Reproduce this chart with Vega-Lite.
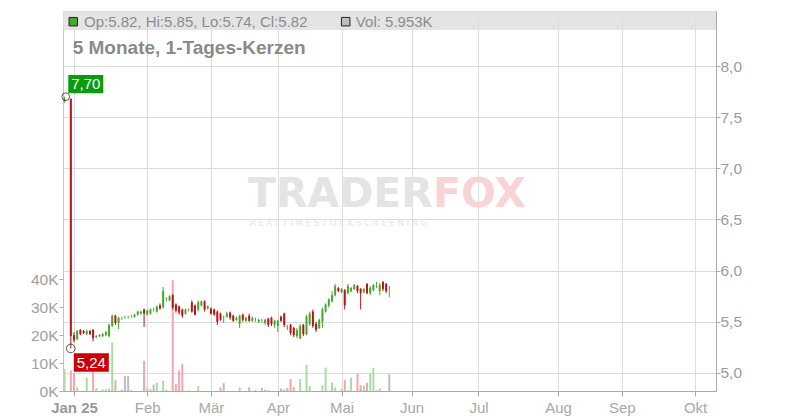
{
  "$schema": "https://vega.github.io/schema/vega-lite/v6.json",
  "width": 653,
  "height": 380,
  "autosize": "none",
  "padding": {"left": 63, "top": 11, "right": 84, "bottom": 29},
  "background": "white",
  "config": {
    "view": {"stroke": "#c4c4c4", "strokeWidth": 1},
    "font": "Liberation Sans",
    "axis": {"title": null, "labelFont": "Liberation Sans", "gridColor": "#dcdcdc", "domainColor": "#aaaaaa", "tickColor": "#aaaaaa"}
  },
  "data": {"values": [
    {"t": -3, "o": 7.66, "h": 7.70, "l": 7.64, "c": 7.68, "v": 7900},
    {"t": -1, "o": 7.68, "h": 7.68, "l": 5.24, "c": 5.36, "v": 7300},
    {"t": 0, "o": 5.37, "h": 5.40, "l": 5.30, "c": 5.32, "v": 6400},
    {"t": 1, "o": 5.33, "h": 5.42, "l": 5.32, "c": 5.41, "v": 1300},
    {"t": 2, "o": 5.42, "h": 5.43, "l": 5.37, "c": 5.38},
    {"t": 3, "o": 5.41, "h": 5.42, "l": 5.38, "c": 5.39},
    {"t": 4, "o": 5.38, "h": 5.42, "l": 5.37, "c": 5.41, "v": 4800},
    {"t": 5, "o": 5.41, "h": 5.42, "l": 5.37, "c": 5.38},
    {"t": 6, "o": 5.42, "h": 5.43, "l": 5.31, "c": 5.34, "v": 8400},
    {"t": 7, "o": 5.35, "h": 5.37, "l": 5.34, "c": 5.36, "v": 1000},
    {"t": 8, "o": 5.36, "h": 5.38, "l": 5.35, "c": 5.37},
    {"t": 9, "o": 5.36, "h": 5.39, "l": 5.35, "c": 5.38, "v": 600},
    {"t": 10, "o": 5.37, "h": 5.41, "l": 5.36, "c": 5.40, "v": 600},
    {"t": 11, "o": 5.36, "h": 5.48, "l": 5.35, "c": 5.47, "v": 900},
    {"t": 12, "o": 5.46, "h": 5.57, "l": 5.45, "c": 5.56, "v": 17400},
    {"t": 13, "o": 5.56, "h": 5.57, "l": 5.47, "c": 5.49, "v": 4000},
    {"t": 14, "o": 5.49, "h": 5.55, "l": 5.43, "c": 5.54},
    {"t": 15, "o": 5.54, "h": 5.55, "l": 5.52, "c": 5.54, "v": 500},
    {"t": 16, "o": 5.54, "h": 5.56, "l": 5.53, "c": 5.54, "v": 5400},
    {"t": 17, "o": 5.55, "h": 5.56, "l": 5.53, "c": 5.55, "v": 5400},
    {"t": 18, "o": 5.55, "h": 5.57, "l": 5.54, "c": 5.55, "v": 300},
    {"t": 19, "o": 5.55, "h": 5.58, "l": 5.54, "c": 5.57},
    {"t": 20, "o": 5.57, "h": 5.61, "l": 5.56, "c": 5.60},
    {"t": 21, "o": 5.58, "h": 5.61, "l": 5.57, "c": 5.60},
    {"t": 22, "o": 5.62, "h": 5.63, "l": 5.45, "c": 5.58, "v": 10800},
    {"t": 23, "o": 5.57, "h": 5.62, "l": 5.56, "c": 5.61, "v": 1300},
    {"t": 24, "o": 5.58, "h": 5.63, "l": 5.57, "c": 5.62, "v": 700},
    {"t": 25, "o": 5.62, "h": 5.64, "l": 5.60, "c": 5.62, "v": 2300},
    {"t": 26, "o": 5.60, "h": 5.66, "l": 5.59, "c": 5.65, "v": 3000},
    {"t": 27, "o": 5.66, "h": 5.68, "l": 5.62, "c": 5.63},
    {"t": 28, "o": 5.64, "h": 5.84, "l": 5.63, "c": 5.80, "v": 3700},
    {"t": 29, "o": 5.72, "h": 5.74, "l": 5.70, "c": 5.72, "v": 400},
    {"t": 30, "o": 5.71, "h": 5.76, "l": 5.70, "c": 5.75},
    {"t": 31, "o": 5.76, "h": 5.77, "l": 5.62, "c": 5.64, "v": 39700},
    {"t": 32, "o": 5.67, "h": 5.68, "l": 5.59, "c": 5.61, "v": 2500},
    {"t": 33, "o": 5.65, "h": 5.66, "l": 5.57, "c": 5.59, "v": 7300},
    {"t": 34, "o": 5.62, "h": 5.63, "l": 5.54, "c": 5.56, "v": 9600},
    {"t": 35, "o": 5.58, "h": 5.63, "l": 5.57, "c": 5.62},
    {"t": 36, "o": 5.61, "h": 5.63, "l": 5.60, "c": 5.61, "v": 200},
    {"t": 37, "o": 5.69, "h": 5.71, "l": 5.59, "c": 5.60},
    {"t": 38, "o": 5.66, "h": 5.67, "l": 5.56, "c": 5.57},
    {"t": 39, "o": 5.62, "h": 5.71, "l": 5.60, "c": 5.69, "v": 1800},
    {"t": 40, "o": 5.66, "h": 5.71, "l": 5.65, "c": 5.70},
    {"t": 41, "o": 5.70, "h": 5.71, "l": 5.60, "c": 5.62},
    {"t": 42, "o": 5.63, "h": 5.66, "l": 5.62, "c": 5.65},
    {"t": 43, "o": 5.63, "h": 5.64, "l": 5.57, "c": 5.58},
    {"t": 44, "o": 5.62, "h": 5.63, "l": 5.56, "c": 5.57},
    {"t": 45, "o": 5.60, "h": 5.61, "l": 5.47, "c": 5.50},
    {"t": 46, "o": 5.58, "h": 5.59, "l": 5.51, "c": 5.52, "v": 1300},
    {"t": 47, "o": 5.52, "h": 5.56, "l": 5.49, "c": 5.52, "v": 2800},
    {"t": 48, "o": 5.55, "h": 5.60, "l": 5.54, "c": 5.58},
    {"t": 49, "o": 5.59, "h": 5.60, "l": 5.52, "c": 5.54},
    {"t": 50, "o": 5.56, "h": 5.57, "l": 5.50, "c": 5.51},
    {"t": 51, "o": 5.52, "h": 5.55, "l": 5.51, "c": 5.54},
    {"t": 52, "o": 5.48, "h": 5.57, "l": 5.44, "c": 5.56, "v": 1300},
    {"t": 53, "o": 5.57, "h": 5.58, "l": 5.50, "c": 5.52},
    {"t": 54, "o": 5.51, "h": 5.55, "l": 5.50, "c": 5.54},
    {"t": 55, "o": 5.56, "h": 5.58, "l": 5.50, "c": 5.51, "v": 1300},
    {"t": 56, "o": 5.51, "h": 5.55, "l": 5.50, "c": 5.54},
    {"t": 57, "o": 5.53, "h": 5.54, "l": 5.50, "c": 5.53, "v": 300},
    {"t": 58, "o": 5.50, "h": 5.53, "l": 5.49, "c": 5.52},
    {"t": 59, "o": 5.51, "h": 5.53, "l": 5.49, "c": 5.51, "v": 1100},
    {"t": 60, "o": 5.49, "h": 5.53, "l": 5.47, "c": 5.52, "v": 600},
    {"t": 61, "o": 5.53, "h": 5.54, "l": 5.45, "c": 5.47, "v": 300},
    {"t": 62, "o": 5.54, "h": 5.55, "l": 5.46, "c": 5.48},
    {"t": 63, "o": 5.47, "h": 5.52, "l": 5.44, "c": 5.51},
    {"t": 64, "o": 5.46, "h": 5.52, "l": 5.40, "c": 5.51},
    {"t": 65, "o": 5.55, "h": 5.56, "l": 5.50, "c": 5.51, "v": 900},
    {"t": 66, "o": 5.58, "h": 5.59, "l": 5.45, "c": 5.47, "v": 500},
    {"t": 67, "o": 5.45, "h": 5.47, "l": 5.42, "c": 5.45, "v": 1100},
    {"t": 68, "o": 5.47, "h": 5.48, "l": 5.37, "c": 5.39, "v": 4300},
    {"t": 69, "o": 5.44, "h": 5.45, "l": 5.35, "c": 5.37, "v": 1400},
    {"t": 70, "o": 5.36, "h": 5.44, "l": 5.34, "c": 5.42},
    {"t": 71, "o": 5.34, "h": 5.48, "l": 5.33, "c": 5.46, "v": 4300},
    {"t": 72, "o": 5.47, "h": 5.48, "l": 5.36, "c": 5.38},
    {"t": 73, "o": 5.38, "h": 5.57, "l": 5.37, "c": 5.55, "v": 9400},
    {"t": 74, "o": 5.48, "h": 5.60, "l": 5.46, "c": 5.58, "v": 1800},
    {"t": 75, "o": 5.60, "h": 5.62, "l": 5.44, "c": 5.46},
    {"t": 76, "o": 5.48, "h": 5.50, "l": 5.40, "c": 5.42},
    {"t": 77, "o": 5.44, "h": 5.53, "l": 5.43, "c": 5.52},
    {"t": 78, "o": 5.50, "h": 5.64, "l": 5.44, "c": 5.62, "v": 2100},
    {"t": 79, "o": 5.60, "h": 5.68, "l": 5.59, "c": 5.67, "v": 8400},
    {"t": 80, "o": 5.66, "h": 5.73, "l": 5.64, "c": 5.72},
    {"t": 81, "o": 5.70, "h": 5.80, "l": 5.69, "c": 5.76, "v": 3000},
    {"t": 82, "o": 5.76, "h": 5.87, "l": 5.75, "c": 5.85, "v": 1300},
    {"t": 83, "o": 5.83, "h": 5.84, "l": 5.79, "c": 5.80},
    {"t": 84, "o": 5.79, "h": 5.83, "l": 5.78, "c": 5.82, "v": 900},
    {"t": 85, "o": 5.81, "h": 5.82, "l": 5.62, "c": 5.66, "v": 4000},
    {"t": 86, "o": 5.78, "h": 5.87, "l": 5.77, "c": 5.85, "v": 300},
    {"t": 87, "o": 5.80, "h": 5.84, "l": 5.79, "c": 5.83, "v": 4800},
    {"t": 88, "o": 5.82, "h": 5.87, "l": 5.81, "c": 5.86},
    {"t": 89, "o": 5.85, "h": 5.86, "l": 5.78, "c": 5.80, "v": 6100},
    {"t": 90, "o": 5.82, "h": 5.83, "l": 5.62, "c": 5.78, "v": 2100},
    {"t": 91, "o": 5.79, "h": 5.83, "l": 5.78, "c": 5.82, "v": 1900},
    {"t": 92, "o": 5.87, "h": 5.88, "l": 5.77, "c": 5.78, "v": 2900},
    {"t": 93, "o": 5.78, "h": 5.85, "l": 5.76, "c": 5.83, "v": 6400},
    {"t": 94, "o": 5.81, "h": 5.87, "l": 5.80, "c": 5.86, "v": 8300},
    {"t": 95, "o": 5.85, "h": 5.89, "l": 5.83, "c": 5.85, "v": 300},
    {"t": 96, "o": 5.80, "h": 5.88, "l": 5.76, "c": 5.86, "v": 900},
    {"t": 97, "o": 5.89, "h": 5.90, "l": 5.80, "c": 5.82},
    {"t": 98, "o": 5.87, "h": 5.88, "l": 5.78, "c": 5.80},
    {"t": 99, "o": 5.82, "h": 5.85, "l": 5.74, "c": 5.82, "v": 5953}
  ]},
  "layer": [
    {
      "mark": {"type": "bar", "width": 2},
      "encoding": {
        "x": {
          "field": "t", "type": "quantitative",
          "scale": {"domain": [-3.454, 201.57], "nice": false, "zero": false, "padding": 0},
          "axis": {
            "values": [0, 23, 43, 64, 84, 106, 127, 152, 172, 195],
            "labelExpr": "['Jan 25','Feb','Mär','Apr','Mai','Jun','Jul','Aug','Sep','Okt'][indexof([0,23,43,64,84,106,127,152,172,195], datum.value)]",
            "grid": true,
            "tickSize": 5,
            "labelPadding": 4,
            "labelFontSize": 15,
            "labelOverlap": false,
            "labelColor": {"condition": {"test": "datum.value == 0", "value": "#999999"}, "value": "#a8a8a8"},
            "labelFontWeight": {"condition": {"test": "datum.value == 0", "value": "bold"}, "value": "normal"}
          }
        },
        "y": {
          "field": "v", "type": "quantitative",
          "scale": {"domain": [0, 136000], "nice": false},
          "axis": {
            "orient": "left",
            "values": [0, 10000, 20000, 30000, 40000],
            "labelExpr": "(datum.value / 1000) + 'K'",
            "grid": false,
            "domain": false,
            "tickSize": 4,
            "labelPadding": 1,
            "labelFontSize": 15.5,
            "labelColor": "#a0a0a0"
          }
        },
        "color": {
          "condition": [
            {"test": "datum.c > datum.o", "value": "#a9dca1"},
            {"test": "datum.c < datum.o", "value": "#f2a6ae"}
          ],
          "value": "#bdbdbd"
        }
      }
    },
    {
      "layer": [
        {
          "data": {"values": [{}]},
          "mark": {"type": "rect", "fill": "#dfdfdf", "opacity": 0.85},
          "encoding": {
            "x": {"datum": -3.454, "type": "quantitative"},
            "x2": {"datum": 201.57},
            "y": {"datum": 8.5375, "type": "quantitative"},
            "y2": {"datum": 8.352}
          }
        },
        {
          "data": {"values": [{}]},
          "mark": {"type": "text", "text": "TRADER", "font": "DejaVu Sans", "fontWeight": "bold", "fontSize": 41, "align": "right", "baseline": "alphabetic", "fill": "#e4e4e4"},
          "encoding": {
            "x": {"datum": 112.7, "type": "quantitative"},
            "y": {"datum": 6.622, "type": "quantitative"}
          }
        },
        {
          "data": {"values": [{}]},
          "mark": {"type": "text", "text": "FOX", "font": "DejaVu Sans", "fontWeight": "bold", "fontSize": 41, "align": "left", "baseline": "alphabetic", "fill": "#f9d4d4"},
          "encoding": {
            "x": {"datum": 112.7, "type": "quantitative"},
            "y": {"datum": 6.622, "type": "quantitative"}
          }
        },
        {
          "data": {"values": [{}]},
          "mark": {"type": "text", "text": "R E A L T I M E   S T O C K   S C R E E N I N G", "font": "DejaVu Sans", "fontSize": 8.5, "align": "center", "baseline": "alphabetic", "fill": "#e4e4e4"},
          "encoding": {
            "x": {"datum": 83.1, "type": "quantitative"},
            "y": {"datum": 6.4365, "type": "quantitative"}
          }
        },
        {
          "mark": {"type": "rule", "strokeWidth": 1},
          "encoding": {
            "x": {"field": "t", "type": "quantitative"},
            "y": {
              "field": "l", "type": "quantitative",
              "scale": {"domain": [4.824, 8.5375], "nice": false, "zero": false},
              "axis": {
                "orient": "right",
                "values": [5, 5.5, 6, 6.5, 7, 7.5, 8],
                "labelExpr": "replace(format(datum.value, '.1f'), '.', ',')",
                "grid": true,
                "tickSize": 4,
                "labelPadding": 0,
                "labelFontSize": 15.5,
                "labelColor": "#9c9c9c"
              }
            },
            "y2": {"field": "h"},
            "color": {"condition": {"test": "datum.c >= datum.o", "value": "#45a82b"}, "value": "#bb1518"}
          }
        },
        {
          "mark": {"type": "bar", "width": 2},
          "encoding": {
            "x": {"field": "t", "type": "quantitative"},
            "y": {"field": "o", "type": "quantitative"},
            "y2": {"field": "c"},
            "color": {"condition": {"test": "datum.c >= datum.o", "value": "#45a82b"}, "value": "#bb1518"}
          }
        },
        {
          "data": {"values": [{}]},
          "mark": {"type": "point", "shape": "circle", "filled": false, "stroke": "#111111", "strokeWidth": 1, "size": 60},
          "encoding": {
            "x": {"datum": -2.6, "type": "quantitative"},
            "y": {"datum": 7.70, "type": "quantitative"}
          }
        },
        {
          "data": {"values": [{}]},
          "mark": {"type": "point", "shape": "circle", "filled": false, "stroke": "#111111", "strokeWidth": 1, "size": 75},
          "encoding": {
            "x": {"datum": -1, "type": "quantitative"},
            "y": {"datum": 5.24, "type": "quantitative"}
          }
        },
        {
          "data": {"values": [{}]},
          "mark": {"type": "bar", "width": 35, "fill": "#0b9b0b"},
          "encoding": {
            "x": {"datum": 3.7, "type": "quantitative"},
            "y": {"datum": 7.912, "type": "quantitative"},
            "y2": {"datum": 7.733}
          }
        },
        {
          "data": {"values": [{}]},
          "mark": {"type": "text", "text": "7,70", "fontSize": 15, "align": "center", "baseline": "alphabetic", "fill": "white"},
          "encoding": {
            "x": {"datum": 3.7, "type": "quantitative"},
            "y": {"datum": 7.775, "type": "quantitative"}
          }
        },
        {
          "data": {"values": [{}]},
          "mark": {"type": "bar", "width": 35, "fill": "#cc0000"},
          "encoding": {
            "x": {"datum": 5.43, "type": "quantitative"},
            "y": {"datum": 5.192, "type": "quantitative"},
            "y2": {"datum": 5.0127}
          }
        },
        {
          "data": {"values": [{}]},
          "mark": {"type": "text", "text": "5,24", "fontSize": 15, "align": "center", "baseline": "alphabetic", "fill": "white"},
          "encoding": {
            "x": {"datum": 5.43, "type": "quantitative"},
            "y": {"datum": 5.046, "type": "quantitative"}
          }
        },
        {
          "data": {"values": [{}]},
          "mark": {"type": "point", "shape": "square", "filled": true, "fill": "#47a82e", "stroke": "#222222", "strokeWidth": 1, "size": 72, "opacity": 1},
          "encoding": {
            "x": {"datum": -0.22, "type": "quantitative"},
            "y": {"datum": 8.433, "type": "quantitative"}
          }
        },
        {
          "data": {"values": [{}]},
          "mark": {"type": "text", "text": "Op:5.82, Hi:5.85, Lo:5.74, Cl:5.82", "fontSize": 15, "align": "left", "baseline": "alphabetic", "fill": "#8c8c8c"},
          "encoding": {
            "x": {"datum": 3.14, "type": "quantitative"},
            "y": {"datum": 8.384, "type": "quantitative"}
          }
        },
        {
          "data": {"values": [{}]},
          "mark": {"type": "point", "shape": "square", "filled": true, "fill": "#bdbdbd", "stroke": "#222222", "strokeWidth": 1, "size": 72, "opacity": 1},
          "encoding": {
            "x": {"datum": 85.3, "type": "quantitative"},
            "y": {"datum": 8.433, "type": "quantitative"}
          }
        },
        {
          "data": {"values": [{}]},
          "mark": {"type": "text", "text": "Vol: 5.953K", "fontSize": 15, "align": "left", "baseline": "alphabetic", "fill": "#8c8c8c"},
          "encoding": {
            "x": {"datum": 88.5, "type": "quantitative"},
            "y": {"datum": 8.384, "type": "quantitative"}
          }
        },
        {
          "data": {"values": [{}]},
          "mark": {"type": "text", "text": "5 Monate, 1-Tages-Kerzen", "fontSize": 19, "fontWeight": "bold", "align": "left", "baseline": "alphabetic", "fill": "#8a8a8a"},
          "encoding": {
            "x": {"datum": -0.41, "type": "quantitative"},
            "y": {"datum": 8.117, "type": "quantitative"}
          }
        }
      ]
    }
  ],
  "resolve": {"scale": {"y": "independent"}}
}
